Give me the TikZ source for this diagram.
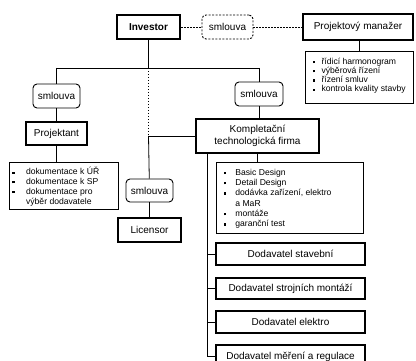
\documentclass[tikz,border=0pt]{standalone}
\usepackage{fontspec}
\setmainfont{Liberation Sans}
\newcommand\sqb{\rule[0.25ex]{2.2pt}{2.2pt}}
\begin{document}
\begin{tikzpicture}[x=1pt,y=-1pt,
 box/.style={draw, line width=1.2pt, inner sep=0pt, font=\fontsize{10}{12}\selectfont},
 thickbox/.style={box, line width=2.5pt},
 smbox/.style={box, rounded corners=4pt, line width=0.9pt},
 dsmbox/.style={smbox, dash pattern=on 2pt off 1.5pt},
 listbox/.style={draw, line width=0.8pt, inner sep=0pt},
 listtext/.style={anchor=north west, inner sep=0pt},
 conn/.style={line width=0.8pt},
 dconn/.style={line width=0.8pt, dash pattern=on 1.5pt off 1.5pt}]
\useasboundingbox (0,0) rectangle (416,361);

% top row
\node[thickbox, minimum width=63pt, minimum height=24pt, font=\fontsize{10}{12}\selectfont\bfseries] (inv) at (148.5,27) {Investor};
\node[dsmbox, minimum width=51pt, minimum height=24pt] (sm0) at (227.5,27) {smlouva};
\node[box, line width=1.6pt, minimum width=110pt, minimum height=26pt] (pm) at (358,27) {Projektový manažer};
\node[listbox, minimum width=108pt, minimum height=52pt] (pmlist) at (359,77) {};
\node[listtext, font=\fontsize{8.6}{9.2}\selectfont] (pmtext) at (312.5,57.6) {\begin{tabular}{@{}l@{\hspace{6.7pt}}l@{}}
\sqb & řídicí harmonogram\\
\sqb & výběrová řízení\\
\sqb & řízení smluv\\
\sqb & kontrola kvality stavby
\end{tabular}};

% left branch
\node[smbox, minimum width=47pt, minimum height=24pt] (sm1) at (56.5,96) {smlouva};
\node[box, minimum width=61pt, minimum height=23pt] (proj) at (56.5,133.5) {Projektant};
\node[listbox, minimum width=109pt, minimum height=47pt] (projlist) at (63.5,185.5) {};
\node[listtext, font=\fontsize{8.6}{9.7}\selectfont] (projtext) at (12.2,167.2) {\begin{tabular}{@{}l@{\hspace{11.5pt}}l@{}}
\sqb & dokumentace k ÚŘ\\
\sqb & dokumentace k SP\\
\sqb & dokumentace pro\\
 & výběr dodavatele
\end{tabular}};

% right branch
\node[smbox, minimum width=48pt, minimum height=24pt] (sm2) at (259,94) {smlouva};
\node[thickbox, minimum width=123pt, minimum height=34pt, align=center] (komp) at (257.5,136) {Kompletační\\technologická firma};
\node[listbox, minimum width=147pt, minimum height=71pt] (klist) at (289.5,197.5) {};
\node[listtext, font=\fontsize{8.6}{10.3}\selectfont] (ktext) at (224,167.8) {\begin{tabular}{@{}l@{\hspace{9pt}}l@{}}
\sqb & Basic Design\\
\sqb & Detail Design\\
\sqb & dodávka zařízení, elektro\\
 & a MaR\\
\sqb & montáže\\
\sqb & garanční test
\end{tabular}};

% licensor
\node[smbox, minimum width=47pt, minimum height=23pt] (sm3) at (149.5,190.5) {smlouva};
\node[box, minimum width=63pt, minimum height=24pt] (lic) at (149.5,230) {Licensor};

% suppliers
\node[box, minimum width=149pt, minimum height=22pt] (d1) at (290.5,254) {Dodavatel stavební};
\node[box, minimum width=149pt, minimum height=21pt] (d2) at (290.5,288.5) {Dodavatel strojních montáží};
\node[box, minimum width=149pt, minimum height=22pt] (d3) at (290.5,322) {Dodavatel elektro};
\node[box, minimum width=149pt, minimum height=23pt] (d4) at (290.5,356.5) {Dodavatel měření a regulace};

% connectors
\coordinate (hl) at (56.5,68);
\coordinate (hr) at (259,68);
\coordinate (hm) at (148.5,68);
\coordinate (lm) at (148.5,136);
\coordinate (sp) at (207,153);

\draw[conn] (inv) -- (hm);
\draw[conn] (hl) -- (hr);
\draw[conn] (hl) -- (sm1);
\draw[conn] (sm1) -- (proj);
\draw[conn] (proj.south) -- (proj.south |- projlist.north);
\draw[conn] (hr) -- (sm2);
\draw[conn] (sm2.south) -- (sm2.south |- komp.north);
\draw[conn] (komp.south) -- (komp.south |- klist.north);
\draw[dconn] (hm) -- (lm);
\draw[conn] (lm) -- (lm -| komp.west);
\draw[conn] (lm) -- (sm3);
\draw[conn] (sm3) -- (lic);
\draw[dconn] (inv) -- (sm0);
\draw[dconn] (sm0) -- (pm);
\draw[conn] (pmlist.north) -- (pmlist.north |- pm.south);
\draw[conn] (sp) |- (d4.west);
\draw[conn] (d1.west -| sp) -- (d1.west);
\draw[conn] (d2.west -| sp) -- (d2.west);
\draw[conn] (d3.west -| sp) -- (d3.west);
\end{tikzpicture}
\end{document}
